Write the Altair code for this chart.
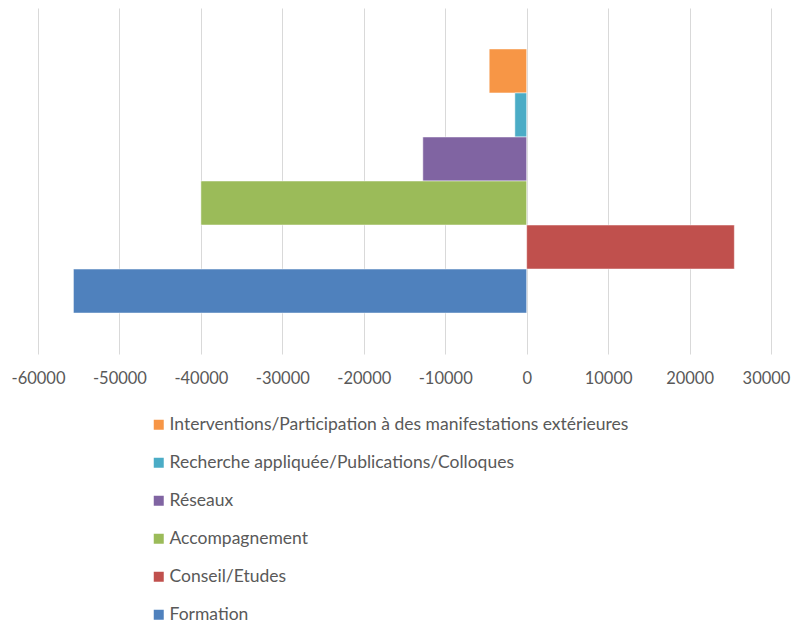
import altair as alt
import pandas as pd

categories = [
    "Interventions/Participation à des manifestations extérieures",
    "Recherche appliquée/Publications/Colloques",
    "Réseaux",
    "Accompagnement",
    "Conseil/Etudes",
    "Formation",
]
values = [-4600, -1450, -12750, -40000, 25500, -55650]
colors = ["#F79646", "#4BACC6", "#8064A2", "#9BBB59", "#C0504D", "#4F81BD"]
tick_values = [-60000, -50000, -40000, -30000, -20000, -10000, 0, 10000, 20000, 30000]

df = pd.DataFrame({"category": categories, "value": values})

FONT = "Lato"
GREY = "#595959"

chart = (
    alt.Chart(df)
    .mark_bar(stroke="white", strokeWidth=0.5)
    .encode(
        x=alt.X(
            "value:Q",
            scale=alt.Scale(domain=[-60000, 30000], nice=False, zero=False),
            axis=alt.Axis(
                values=tick_values,
                title=None,
                grid=True,
                gridColor="#d9d9d9",
                gridWidth=1,
                domain=False,
                ticks=False,
                tickSize=0,
                labelPadding=16,
                labelFont=FONT,
                labelFontSize=16.5,
                labelColor=GREY,
                labelOverlap=False,
                labelFlush=False,
                labelExpr="'' + datum.value",
                labelOffset={"condition": {"test": "datum.value == 30000", "value": -5}, "value": 0},
            ),
        ),
        y=alt.Y(
            "category:N",
            sort=categories,
            axis=None,
            scale=alt.Scale(paddingInner=0, paddingOuter=0.93),
        ),
        color=alt.Color(
            "category:N",
            scale=alt.Scale(domain=categories, range=colors),
            legend=alt.Legend(
                orient="none",
                legendX=112,
                legendY=408,
                title=None,
                direction="vertical",
                symbolType="square",
                symbolSize=100,
                symbolStrokeWidth=0,
                symbolOpacity=1,
                labelFont=FONT,
                labelFontSize=17.5,
                labelColor=GREY,
                labelLimit=0,
                labelOffset=2,
                rowPadding=19,
            ),
        ),
    )
    .properties(
        width=733,
        height=346,
        autosize=alt.AutoSizeParams(type="none"),
        padding={"left": 30, "top": 0, "right": 20, "bottom": 270},
    )
    .configure_view(stroke=None)
)

chart.save("out.html", embed_options={"renderer": "svg", "actions": False})
